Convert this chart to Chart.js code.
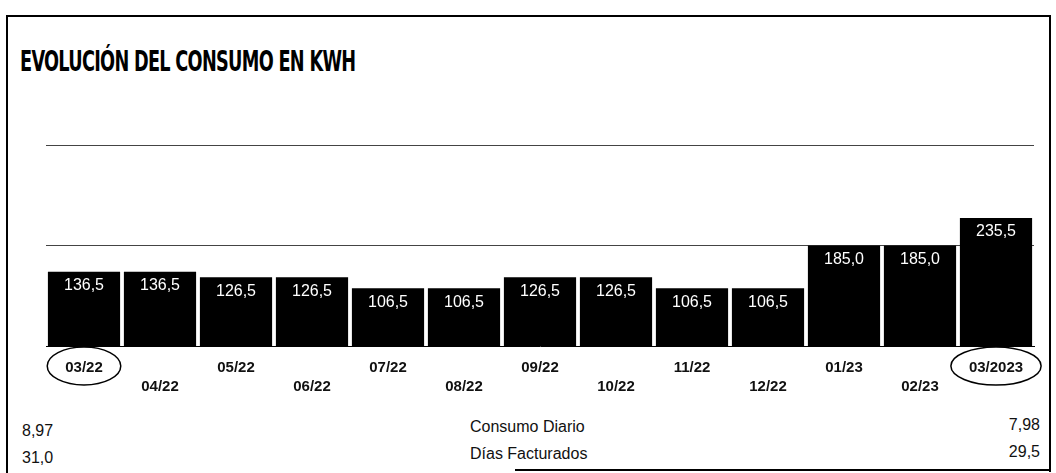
<!DOCTYPE html>
<html>
<head>
<meta charset="utf-8">
<script src="https://cdn.jsdelivr.net/npm/chart.js@4"></script>
<style>
  body { margin: 0; width: 1056px; height: 473px; background: #fff; position: relative; overflow: hidden; font-family: "Liberation Sans", Arial, sans-serif; }
  #chart { position: absolute; left: 0; top: 0; }
  .frame { position: absolute; background: #000; }
  #title { position: absolute; left: 20px; top: 45px; font-family: "Liberation Sans Narrow", "DejaVu Sans Condensed", sans-serif; font-weight: bold; font-size: 28px; letter-spacing: -1px; transform-origin: left top; white-space: nowrap; }
  .foot { position: absolute; font-size: 16px; white-space: nowrap; color: #111; }
</style>
</head>
<body>
<div class="frame" style="left:6px;top:15px;width:2px;height:458px"></div>
<div class="frame" style="left:6px;top:15px;width:1045px;height:2px"></div>
<div class="frame" style="left:1049px;top:15px;width:2px;height:457px"></div>
<div class="frame" style="left:515px;top:469px;width:536px;height:2px"></div>
<div id="title">EVOLUCIÓN DEL CONSUMO EN KWH</div>
<canvas id="chart" width="1056" height="410"></canvas>
<div id="footer"></div>
<script>
// consumo mensual en kWh
const months = ["03/22", "04/22", "05/22", "06/22", "07/22", "08/22", "09/22",
  "10/22", "11/22", "12/22", "01/23", "02/23", "03/2023"];
const consumo = [136.5, 136.5, 126.5, 126.5, 106.5, 106.5, 126.5, 126.5, 106.5, 106.5, 185.0, 185.0, 235.5];
const gridValues = [185, 370];

// resumen bajo el grafico
const resumenEtiquetas = ["Consumo Diario", "Días Facturados"];
const resumenAnterior = [8.97, 31.0];
const resumenActual = [7.98, 29.5];

const fmt = (v, d) => v.toFixed(d).replace(".", ",");

// fit the title to the width it has in the original
const title = document.getElementById("title");
title.style.transform = "scaleX(" + (335 / title.offsetWidth) + ")";

const footer = document.getElementById("footer");
resumenEtiquetas.forEach((lab, i) => {
  const y = 418 + i * 27;
  footer.innerHTML +=
    `<div class="foot" style="left:22px;top:${y + 4}px">${fmt(resumenAnterior[i], 2 - i)}</div>` +
    `<div class="foot" style="left:470px;top:${y}px">${lab}</div>` +
    `<div class="foot" style="right:16px;top:${y - 2}px">${fmt(resumenActual[i], 2 - i)}</div>`;
});

const barLabels = {
  id: "barLabels",
  afterDatasetsDraw(chart) {
    const ctx = chart.ctx;
    ctx.save();
    ctx.fillStyle = "#fff";
    ctx.font = "16px 'Liberation Sans', Arial";
    ctx.textAlign = "center";
    ctx.textBaseline = "middle";
    chart.getDatasetMeta(0).data.forEach((bar, i) => {
      ctx.fillText(fmt(consumo[i], 1), bar.x, bar.y + 14);
    });
    ctx.restore();
  }
};

const circled = {
  id: "circled",
  afterDraw(chart) {
    const ctx = chart.ctx;
    const x = chart.scales.x;
    ctx.save();
    ctx.strokeStyle = "#000";
    ctx.lineWidth = 1.5;
    [0, months.length - 1].forEach(i => {
      ctx.font = "bold 15px 'Liberation Sans', Arial";
      const w = ctx.measureText(months[i]).width;
      ctx.beginPath();
      ctx.ellipse(x.getPixelForTick(i), chart.chartArea.bottom + 20, w / 2 + 18, 19, 0, 0, Math.PI * 2);
      ctx.stroke();
    });
    ctx.restore();
  }
};

new Chart(document.getElementById("chart"), {
  type: "bar",
  data: {
    labels: months,
    datasets: [{
      data: consumo,
      backgroundColor: "#000",
      barPercentage: 0.95,
      categoryPercentage: 1
    }]
  },
  options: {
    responsive: false,
    animation: false,
    devicePixelRatio: 1,
    layout: { padding: { left: 46, right: 22, top: 145, bottom: 14 } },
    plugins: { legend: { display: false }, tooltip: { enabled: false } },
    scales: {
      x: {
        grid: { display: false },
        border: { display: true, color: "#000", width: 1 },
        afterFit: s => { s.height = 50; },
        ticks: {
          color: "#111",
          font: { family: "'Liberation Sans', Arial", size: 15, weight: "bold", lineHeight: 1.3 },
          padding: 4,
          maxRotation: 0,
          autoSkip: false,
          callback: (v, i) => i % 2 === 0 ? [months[i]] : ["", months[i]]
        }
      },
      y: {
        min: 0,
        max: 370,
        afterFit: s => { s.width = 0; },
        afterBuildTicks: s => { s.ticks = gridValues.map(v => ({ value: v })); },
        ticks: { display: false },
        border: { display: false },
        grid: { color: "#444", lineWidth: 1, drawTicks: false }
      }
    }
  },
  plugins: [barLabels, circled]
});
</script>
</body>
</html>
